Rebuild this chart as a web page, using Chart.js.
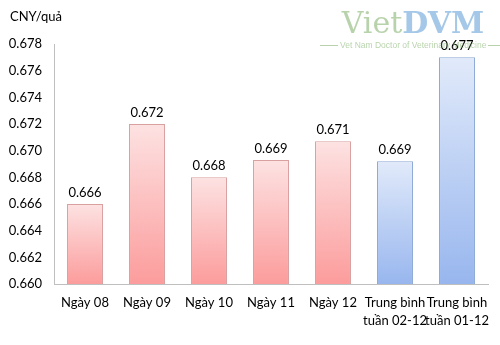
<!DOCTYPE html>
<html>
<head>
<meta charset="utf-8">
<script src="https://cdn.jsdelivr.net/npm/chart.js@4"></script>
<style>
    body { margin: 0; background: #fff; }
    #wrap { position: relative; width: 500px; height: 345px; overflow: hidden; }
    .logo { position: absolute; left: 318px; top: 6px; width: 182px; text-align: center; opacity: 0.55; font-family: "DejaVu Serif", serif; white-space: nowrap; }
    .logo .big { font-size: 30px; line-height: 34px; padding-left: 8px; }
    .logo .viet { color: #7fb069; }
    .logo .dvm { color: #5b9bd5; font-weight: bold; }
    .logo .sub { font-family: "Liberation Sans Narrow", "Liberation Sans", sans-serif; font-size: 8.5px; color: #7fb069; }
    .logo .sub:before, .logo .sub:after { content: ""; display: inline-block; width: 18px; border-top: 1px solid #7fb069; vertical-align: middle; margin: 0 2px; }
</style>
</head>
<body>
<div id="wrap">
    <canvas id="priceChart" width="500" height="345"></canvas>
    <div class="logo">
        <div class="big"><span class="viet">Viet</span><span class="dvm">DVM</span></div>
        <div class="sub">Vet Nam Doctor of Veterinary Medicine</div>
    </div>
</div>
<script>
// Giá trứng - CNY/quả
const labels = ['Ngày 08', 'Ngày 09', 'Ngày 10', 'Ngày 11', 'Ngày 12',
    ['Trung bình', 'tuần 02-12'], ['Trung bình', 'tuần 01-12']];
const values = [0.666, 0.672, 0.668, 0.6693, 0.6707, 0.6692, 0.677];
const isAverage = [false, false, false, false, false, true, true];
const unitLabel = 'CNY/quả';

const FONT = 'Lato, "Liberation Sans", sans-serif';

// gradient cho từng cột: sáng ở trên, đậm ở dưới
function barFill(context) {
    const chart = context.chart;
    if (!chart.chartArea) return '#f9b4b4';
    const i = context.dataIndex;
    const y = chart.scales.y;
    const top = y.getPixelForValue(values[i]);
    const bottom = y.getPixelForValue(y.min);
    const g = chart.ctx.createLinearGradient(0, top, 0, bottom);
    if (isAverage[i]) {
        g.addColorStop(0, '#e1eafa');
        g.addColorStop(1, '#98b6ee');
    } else {
        g.addColorStop(0, '#fde2e2');
        g.addColorStop(1, '#fc9c9c');
    }
    return g;
}

// nhãn giá trị trên đầu cột + đơn vị
const valueLabels = {
    id: 'valueLabels',
    afterDatasetsDraw(chart) {
        const ctx = chart.ctx;
        const meta = chart.getDatasetMeta(0);
        ctx.save();
        ctx.fillStyle = '#000';
        ctx.font = '13px ' + FONT;
        ctx.textAlign = 'center';
        ctx.textBaseline = 'bottom';
        meta.data.forEach((bar, i) => {
            ctx.fillText(values[i].toFixed(3), bar.x, bar.y - 5);
        });
        ctx.textAlign = 'left';
        ctx.textBaseline = 'middle';
        ctx.fillText(unitLabel, 10, 17);
        ctx.restore();
    }
};

new Chart(document.getElementById('priceChart'), {
    type: 'bar',
    data: {
        labels: labels,
        datasets: [{
            data: values,
            backgroundColor: barFill,
            borderColor: values.map((v, i) => isAverage[i] ? '#8ea9d4' : '#d9a0a0'),
            borderWidth: 1,
            categoryPercentage: 1,
            barPercentage: 0.58
        }]
    },
    options: {
        responsive: false,
        animation: false,
        layout: { padding: { top: 44, right: 12, bottom: 4, left: 0 } },
        plugins: {
            legend: { display: false },
            tooltip: { enabled: false }
        },
        scales: {
            y: {
                min: 0.660,
                max: 0.678,
                ticks: {
                    stepSize: 0.002,
                    padding: 12,
                    color: '#000',
                    font: { family: FONT, size: 13 },
                    callback: v => v.toFixed(3)
                },
                grid: { display: false, drawTicks: false },
                border: { color: '#bfbfbf', width: 1 },
                afterFit: s => { s.width = 54; }
            },
            x: {
                ticks: {
                    padding: 10,
                    color: '#000',
                    maxRotation: 0,
                    autoSkip: false,
                    font: { family: FONT, size: 13, lineHeight: 1.35 }
                },
                grid: { display: false, drawTicks: false },
                border: { color: '#bfbfbf', width: 1 },
                afterFit: s => { s.height = 57; }
            }
        }
    },
    plugins: [valueLabels]
});
</script>
</body>
</html>
